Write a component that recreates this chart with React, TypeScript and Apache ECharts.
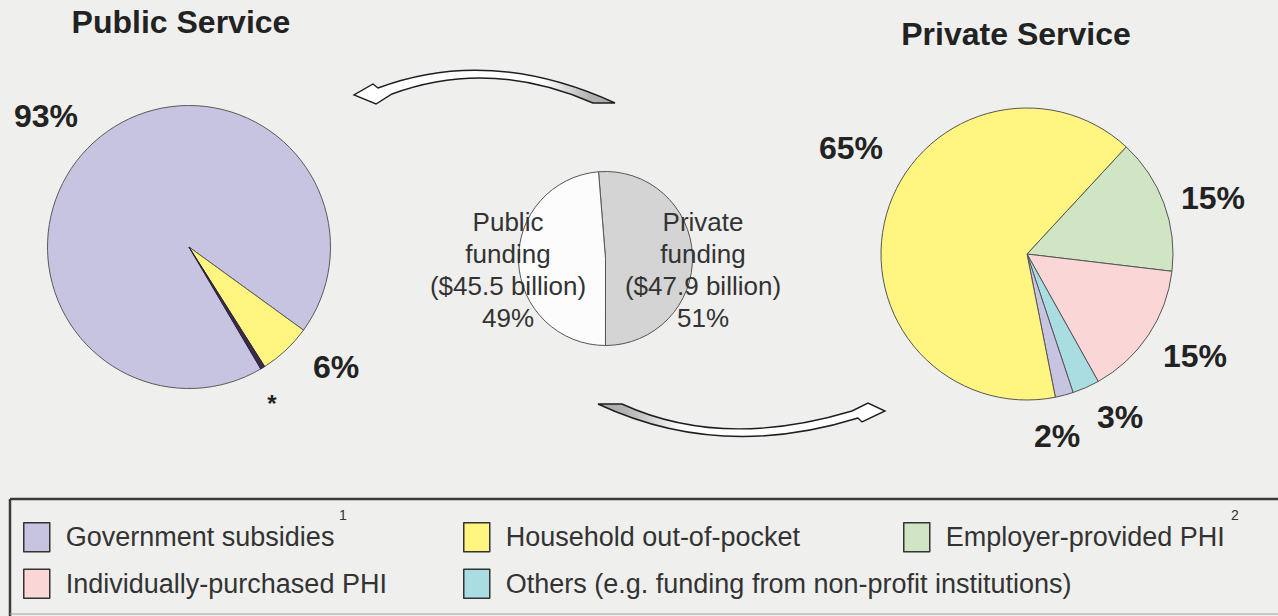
import React, { useEffect, useRef } from 'react';
import * as echarts from 'echarts';

const FONT = '"Liberation Sans", Arial, Helvetica, sans-serif';

// ---- data ----
const legendNames = [
  'Government subsidies',
  'Household out-of-pocket',
  'Employer-provided PHI',
  'Individually-purchased PHI',
  'Others (e.g. funding from non-profit institutions)',
];
const legendColors = ['#c7c4e2', '#fff580', '#cfe5c4', '#fbd6d6', '#a9dde2'];

const publicNames = ['Government subsidies', 'Household out-of-pocket', 'Others (e.g. funding from non-profit institutions)'];
const publicValues = [93, 6, 0.5];

const privateNames = [
  'Employer-provided PHI',
  'Individually-purchased PHI',
  'Others (e.g. funding from non-profit institutions)',
  'Government subsidies',
  'Household out-of-pocket',
];
const privateValues = [15, 15, 3, 2, 65];

const fundingNames = ['Private funding', 'Public funding'];
const fundingValues = [47.9, 45.5];
const fundingColors = ['#d4d4d4', '#fcfcfc'];

const titles = ['Public Service', 'Private Service'];
const superscripts = ['1', '2'];

// ---- layout (positions only) ----
const leftLabelPos = [[46, 116], [336, 367], [272, 403]];
const rightLabelPos = [[1213, 198], [1195, 356], [1120, 417], [1057, 436], [851, 148]];
const centerLabelPos = [[703, 270], [508, 270]];

const colorOf = (n: string) => legendColors[legendNames.indexOf(n)];

echarts.graphic.registerShape(
  'arrowTop',
  echarts.graphic.extendPath(
    'M615,103 Q490,46 378,88 L373,84 L354,95 L376,104 L392,94 Q490,58 593,103 Z',
    {}
  ) as any
);
echarts.graphic.registerShape(
  'arrowBottom',
  echarts.graphic.extendPath(
    'M598,404 Q720,461 858,418 L862,422 L885,411 L868,403 L852,411 Q722,450 622,404 Z',
    {}
  ) as any
);

export default function App() {
  const ref = useRef<HTMLDivElement>(null);
  useEffect(() => {
    if (!ref.current) return;
    const chart = echarts.init(ref.current, null, { renderer: 'svg' });
    const pctLabel = {
      show: true,
      position: 'outside',
      fontSize: 32,
      fontWeight: 'bold',
      color: '#222',
      fontFamily: FONT,
    };
    const option: any = {
      animation: false,
      backgroundColor: '#efefee',
      textStyle: { fontFamily: FONT },
      title: [
        {
          text: titles[0], left: 181, top: 22, textAlign: 'center', textVerticalAlign: 'middle', padding: 0,
          textStyle: { fontSize: 32, fontWeight: 'bold', color: '#222', fontFamily: FONT },
        },
        {
          text: titles[1], left: 1016, top: 34, textAlign: 'center', textVerticalAlign: 'middle', padding: 0,
          textStyle: { fontSize: 32, fontWeight: 'bold', color: '#222', fontFamily: FONT },
        },
      ],
      legend: [
        [legendNames[0], legendNames[3], 23],
        [legendNames[1], legendNames[4], 463],
        [legendNames[2], null, 903],
      ].map(([a, b, left]) => ({
        left, top: 522, orient: 'vertical', padding: 0, itemWidth: 26, itemHeight: 29, itemGap: 16,
        icon: 'rect', selectedMode: false,
        data: [a, b].filter(Boolean).map((n: any) => ({ name: n, itemStyle: { color: colorOf(n) } })),
        itemStyle: { borderColor: '#333', borderWidth: 1.5 },
        textStyle: { fontSize: 27, color: '#333', fontFamily: FONT, padding: [0, 0, 0, 11], lineHeight: 29 },
      })),
      series: [
        {
          type: 'pie', center: [189, 247], radius: 141.5, startAngle: 300.5, clockwise: true,
          avoidLabelOverlap: false, silent: true,
          itemStyle: { borderColor: '#5a5a5a', borderWidth: 1 },
          label: {
            ...pctLabel,
            formatter: (p: any) => (p.value < 1 ? '*' : Math.round(p.percent) + '%'),
          },
          labelLine: { show: false },
          labelLayout: (p: any) => {
            const pos = leftLabelPos[p.dataIndex];
            return { x: pos[0], y: pos[1], align: 'center', verticalAlign: 'middle' };
          },
          data: publicNames.map((n, i) => ({
            name: n, value: publicValues[i],
            itemStyle: publicValues[i] < 1
              ? { color: '#3a2d48', borderColor: '#2a2035' }
              : { color: colorOf(n) },
            label: publicValues[i] < 1 ? { fontSize: 24 } : undefined,
          })),
        },
        {
          type: 'pie', center: [1027, 254], radius: 146, startAngle: 47.2, clockwise: true,
          avoidLabelOverlap: false, silent: true,
          itemStyle: { borderColor: '#555', borderWidth: 1 },
          label: { ...pctLabel, formatter: (p: any) => Math.round(p.percent) + '%' },
          labelLine: { show: false },
          labelLayout: (p: any) => {
            const pos = rightLabelPos[p.dataIndex];
            return { x: pos[0], y: pos[1], align: 'center', verticalAlign: 'middle' };
          },
          data: privateNames.map((n, i) => ({ name: n, value: privateValues[i], itemStyle: { color: colorOf(n) } })),
        },
        {
          type: 'pie', center: [605.5, 258.5], radius: 87, startAngle: 94.6, clockwise: true,
          avoidLabelOverlap: false, silent: true,
          itemStyle: { borderColor: '#555', borderWidth: 1 },
          label: {
            show: true, position: 'outside', fontSize: 26, lineHeight: 32, color: '#333', fontFamily: FONT,
            align: 'center',
            formatter: (p: any) =>
              `${p.name.replace(' ', '\n')}\n($${p.value} billion)\n${Math.round(p.percent)}%`,
          },
          labelLine: { show: false },
          labelLayout: (p: any) => {
            const pos = centerLabelPos[p.dataIndex];
            return { x: pos[0], y: pos[1], align: 'center', verticalAlign: 'middle' };
          },
          data: fundingNames.map((n, i) => ({ name: n, value: fundingValues[i], itemStyle: { color: fundingColors[i] } })),
        },
      ],
      graphic: [
        {
          type: 'arrowTop', x: 0, y: 0, silent: true,
          style: {
            fill: new echarts.graphic.LinearGradient(0, 0, 1, 0, [
              { offset: 0, color: '#ffffff' },
              { offset: 0.72, color: '#ffffff' },
              { offset: 0.9, color: '#b4b4b4' },
              { offset: 1, color: '#a6a6a6' },
            ]),
            stroke: '#1e1e1e', lineWidth: 1.4,
          },
        },
        {
          type: 'arrowBottom', x: 0, y: 0, silent: true,
          style: {
            fill: new echarts.graphic.LinearGradient(0, 0, 1, 0, [
              { offset: 0, color: '#a6a6a6' },
              { offset: 0.1, color: '#b4b4b4' },
              { offset: 0.3, color: '#ffffff' },
              { offset: 1, color: '#ffffff' },
            ]),
            stroke: '#1e1e1e', lineWidth: 1.4,
          },
        },
        { type: 'line', silent: true, shape: { x1: 10, y1: 499, x2: 1278, y2: 499 }, style: { stroke: '#3a3a3a', lineWidth: 2.5 } },
        { type: 'line', silent: true, shape: { x1: 10, y1: 499, x2: 10, y2: 616 }, style: { stroke: '#3a3a3a', lineWidth: 2.5 } },
        { type: 'line', silent: true, shape: { x1: 10, y1: 614, x2: 1278, y2: 614 }, style: { stroke: '#a0a0a0', lineWidth: 1 } },
        {
          type: 'text', silent: true, x: 343, y: 515,
          style: { text: superscripts[0], fontSize: 14, fill: '#333', fontFamily: FONT, align: 'center', verticalAlign: 'middle' },
        },
        {
          type: 'text', silent: true, x: 1235, y: 515,
          style: { text: superscripts[1], fontSize: 14, fill: '#333', fontFamily: FONT, align: 'center', verticalAlign: 'middle' },
        },
      ],
    };
    chart.setOption(option);
    return () => chart.dispose();
  }, []);
  return (
    <div
      ref={ref}
      style={{ position: 'fixed', left: 0, top: 0, width: 1278, height: 616 }}
    />
  );
}
